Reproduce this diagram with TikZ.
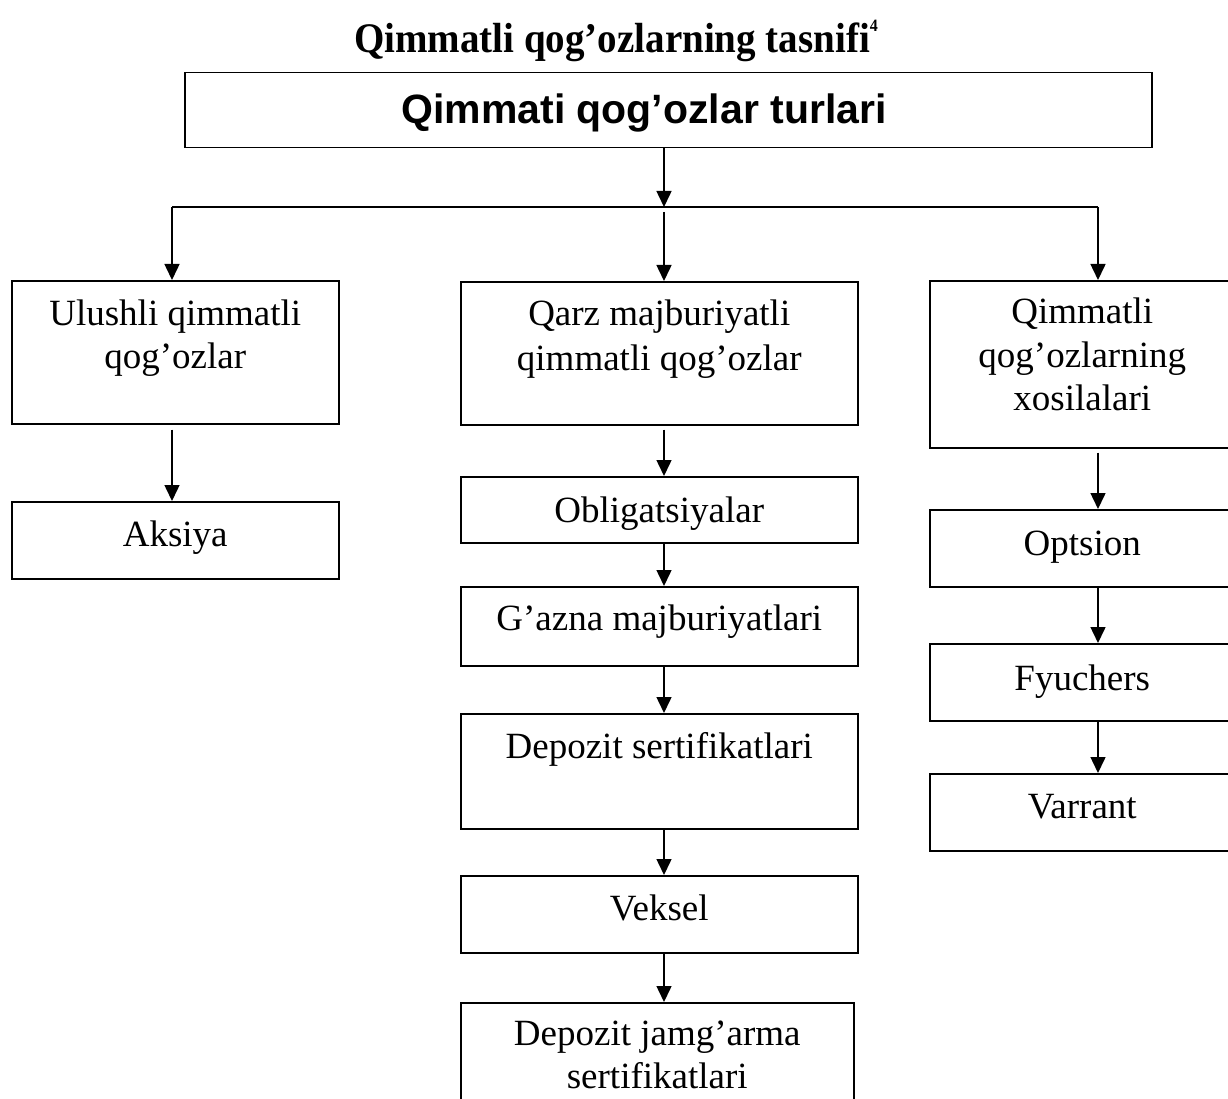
\documentclass[tikz,border=0pt]{standalone}
\usepackage{fontspec}
\setmainfont{Liberation Serif}
\newfontfamily\headsans{Liberation Sans}
\usetikzlibrary{arrows.meta,calc}

\begin{document}
\begin{tikzpicture}[x=1pt,y=-1pt,
  box/.style={draw=black,line width=1.5pt,inner sep=0pt},
  lbl/.style={anchor=base,inner sep=0pt,font=\fontsize{37}{44}\selectfont},
  flow/.style={draw=black,line width=1.5pt,-{Triangle[length=16pt,width=15pt]}},
  wire/.style={draw=black,line width=1.5pt}]

\useasboundingbox (0,0) rectangle (1228,1099);

% heading
\node[anchor=base,inner sep=0pt,yscale=1.08,font=\fontsize{39}{44}\bfseries\selectfont] (title) at (616,53)
  {Qimmatli qog’ozlarning tasnifi\raisebox{0.5em}{\fontsize{16}{16}\bfseries\selectfont 4}};

% top box
\node[box,minimum width=967pt,minimum height=75pt,anchor=north west] (top) at (184,72) {};
\node[anchor=base,inner sep=0pt,font=\headsans\bfseries\fontsize{41}{46}\selectfont] (toptxt) at (644,124)
  {Qimmati qog’ozlar turlari};

% first level
\node[box,minimum width=327pt,minimum height=143pt,anchor=north west] (ul) at (11,280) {};
\node[box,minimum width=397pt,minimum height=143pt,anchor=north west] (qarz) at (460,281) {};
\node[box,minimum width=305pt,minimum height=167pt,anchor=north west] (xos) at (929,280) {};

\path (ul.north) ++(0,45) node[lbl] {Ulushli qimmatli} ++(0,43) node[lbl] {qog’ozlar};
\path (qarz.north) ++(0,44) node[lbl] {Qarz majburiyatli} ++(0,45) node[lbl] {qimmatli qog’ozlar};
\path (xos.north) ++(0,43) node[lbl] {Qimmatli} ++(0,44) node[lbl] {qog’ozlarning} ++(0,43) node[lbl] {xosilalari};

% left column
\node[box,minimum width=327pt,minimum height=77pt,anchor=north west] (aks) at (11,501) {};
\path (aks.north) ++(0,45) node[lbl] {Aksiya};

% middle column
\node[box,minimum width=397pt,minimum height=66pt,anchor=north west] (obl) at (460,476) {};
\node[box,minimum width=397pt,minimum height=79pt,anchor=north west] (gaz) at (460,586) {};
\node[box,minimum width=397pt,minimum height=115pt,anchor=north west] (dep) at (460,713) {};
\node[box,minimum width=397pt,minimum height=77pt,anchor=north west] (vek) at (460,875) {};
\node[box,minimum width=393pt,minimum height=110pt,anchor=north west] (jam) at (460,1002) {};

\path (obl.north) ++(0,46) node[lbl] {Obligatsiyalar};
\path (gaz.north) ++(0,44) node[lbl] {G’azna majburiyatlari};
\path (dep.north) ++(0,45) node[lbl] {Depozit sertifikatlari};
\path (vek.north) ++(0,45) node[lbl] {Veksel};
\path (jam.north) ++(0,43) node[lbl] {Depozit jamg’arma} ++(0,43) node[lbl] {sertifikatlari};

% right column
\node[box,minimum width=305pt,minimum height=77pt,anchor=north west] (opt) at (929,509) {};
\node[box,minimum width=305pt,minimum height=77pt,anchor=north west] (fyu) at (929,643) {};
\node[box,minimum width=305pt,minimum height=77pt,anchor=north west] (var) at (929,773) {};

\path (opt.north) ++(0,46) node[lbl] {Optsion};
\path (fyu.north) ++(0,47) node[lbl] {Fyuchers};
\path (var.north) ++(0,45) node[lbl] {Varrant};

% branching connector
\coordinate (hub) at (664,207);
\coordinate (hl) at (172,207);
\coordinate (hr) at (1098,207);
\draw[flow] (top.south -| hub) -- (hub);
\draw[wire] (hl) -- (hr);
\draw[flow] (hl) -- (hl |- ul.north);
\draw[flow] ($(hub)+(0,5)$) -- (hub |- qarz.north);
\draw[flow] (hr) -- (hr |- xos.north);

% chains
\draw[flow] ($(ul.south -| hl)+(0,5)$) -- (aks.north -| hl);

\draw[flow] ($(qarz.south -| hub)+(0,4)$) -- (obl.north -| hub);
\draw[flow] (obl.south -| hub) -- (gaz.north -| hub);
\draw[flow] (gaz.south -| hub) -- (dep.north -| hub);
\draw[flow] (dep.south -| hub) -- (vek.north -| hub);
\draw[flow] (vek.south -| hub) -- (jam.north -| hub);

\draw[flow] ($(xos.south -| hr)+(0,4)$) -- (opt.north -| hr);
\draw[flow] (opt.south -| hr) -- (fyu.north -| hr);
\draw[flow] (fyu.south -| hr) -- (var.north -| hr);
\end{tikzpicture}
\end{document}
